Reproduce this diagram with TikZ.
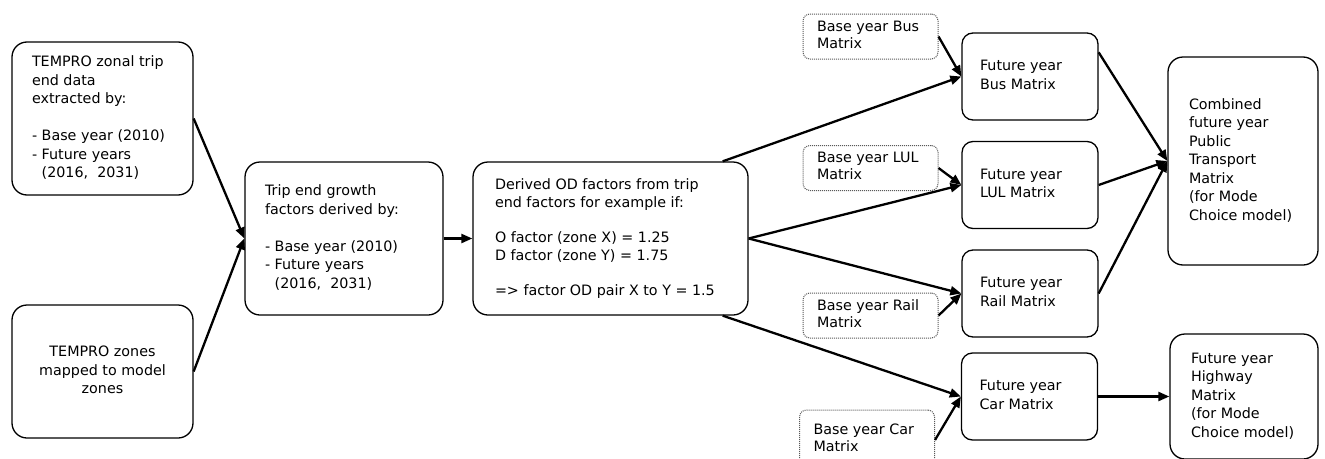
\documentclass[tikz,border=0pt]{standalone}
\usepackage{fontspec}
\setmainfont{DejaVu Sans}
\usetikzlibrary{arrows.meta,calc}
\newcommand{\boxtext}[2]{\makebox[#1][l]{\begin{tabular}{@{}l@{}}#2\end{tabular}}}
\newcommand{\ctrtext}[1]{\begin{tabular}{@{}c@{}}#1\end{tabular}}
\begin{document}
\begin{tikzpicture}[x=1pt,y=-1pt,
  mbox/.style={draw, line width=1.3pt, rounded corners=15pt, inner sep=0pt, fill=white,
    font=\fontsize{14.3}{18.5}\selectfont},
  fbox/.style={mbox, rounded corners=11pt, minimum width=136, minimum height=87},
  dbox/.style={draw=gray!70!black, densely dotted, line width=1pt, rounded corners=7pt,
    inner sep=0pt, minimum width=135, minimum height=45, fill=white,
    font=\fontsize{14.3}{17}\selectfont},
  arr/.style={-{Triangle[length=11pt,width=9pt]}, line width=2.3pt}]
\useasboundingbox (0,0) rectangle (1325,458);
% left column
\node[mbox, minimum width=181, minimum height=153] (A) at (102.5,118.5)
  {\boxtext{141pt}{TEMPRO zonal trip\\end data\\extracted by:\\[18.5pt]- Base year (2010)\\- Future years\\\phantom{- }(2016,\ \ 2031)}};
\node[mbox, minimum width=181, minimum height=133] (B) at (102.5,371.5)
  {\ctrtext{TEMPRO zones\\mapped to model\\zones}};
% growth factors
\node[mbox, minimum width=198, minimum height=153] (C) at (344,238.5)
  {\boxtext{158pt}{Trip end growth\\factors derived by:\\[18.5pt]- Base year (2010)\\- Future years\\\phantom{- }(2016,\ \ 2031)}};
% OD factors
\node[mbox, minimum width=275, minimum height=153] (D) at (610.5,238.5)
  {\boxtext{231pt}{Derived OD factors from trip\\end factors for example if:\\[16pt]O factor (zone X) = 1.25\\D factor (zone Y) = 1.75\\[16pt]=> factor OD pair X to Y = 1.5}};
% base year matrices
\node[dbox] (BBus) at (870.5,36.5) {\boxtext{107pt}{Base year Bus\\Matrix}};
\node[dbox] (BLUL) at (870.5,168) {\boxtext{107pt}{Base year LUL\\Matrix}};
\node[dbox] (BRail) at (870.5,315.5) {\boxtext{107pt}{Base year Rail\\Matrix}};
\node[dbox, minimum height=60] (BCar) at (867,440) {\boxtext{107pt}{Base year Car\\Matrix}};
% future year matrices
\node[fbox] (FBus) at (1030,76.5) {\boxtext{100pt}{Future year\\Bus Matrix}};
\node[fbox] (FLUL) at (1030,185) {\boxtext{100pt}{Future year\\LUL Matrix}};
\node[fbox] (FRail) at (1030,293.5) {\boxtext{100pt}{Future year\\Rail Matrix}};
\node[fbox] (FCar) at (1029.5,396.5) {\boxtext{100pt}{Future year\\Car Matrix}};
% outputs
\node[mbox, minimum width=150, minimum height=208] (Comb) at (1243,161)
  {\boxtext{108pt}{Combined\\future year\\Public\\Transport\\Matrix\\(for Mode\\Choice model)}};
\node[mbox, minimum width=148, minimum height=125] (High) at (1244,396.5)
  {\boxtext{106pt}{Future year\\Highway\\Matrix\\(for Mode\\Choice model)}};
% connectors
\draw[arr] (A.east) -- (C.west);
\draw[arr] (B.east) -- (C.west);
\draw[arr] (C.east) -- (D.west);
\draw[arr] ($(D.north east)+(-26,0)$) -- (FBus.west);
\draw[arr] (D.east) -- (FLUL.west);
\draw[arr] (D.east) -- (FRail.west);
\draw[arr] ($(D.south east)+(-26,0)$) -- (FCar.west);
\draw[arr] (BBus.east) -- (FBus.west);
\draw[arr] (BLUL.east) -- (FLUL.west);
\draw[arr] (BRail.east) -- (FRail.west);
\draw[arr] (BCar.east) -- (FCar.west);
\draw[arr] ($(FBus.north east)+(0,20)$) -- (Comb.west);
\draw[arr] (FLUL.east) -- (Comb.west);
\draw[arr] (FRail.east) -- (Comb.west);
\draw[arr] (FCar.east) -- (High.west);
\end{tikzpicture}
\end{document}
